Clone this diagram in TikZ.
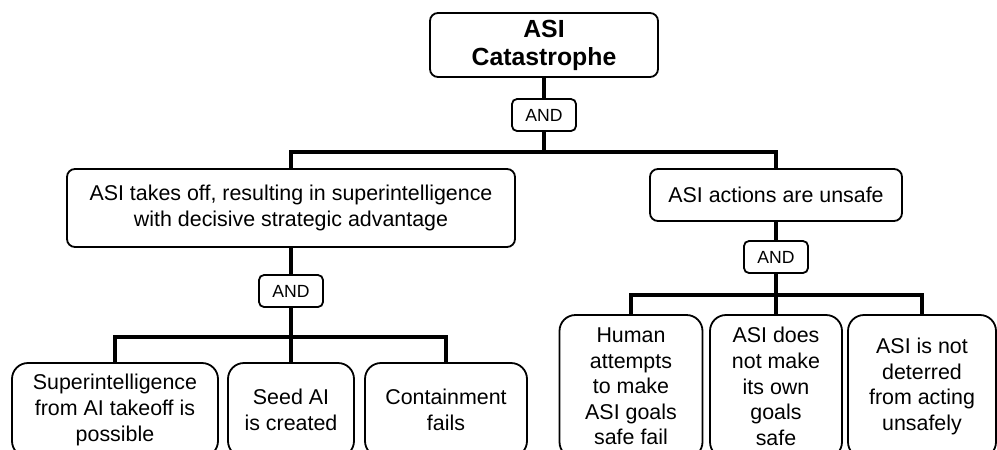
\documentclass[tikz,border=0pt]{standalone}
\usepackage{fontspec}
\setmainfont{Liberation Sans}
\usetikzlibrary{positioning}

\begin{document}
\begin{tikzpicture}[
    x=0.5pt, y=-0.5pt,
    box/.style={rectangle, draw, line width=0.9pt, rounded corners=4pt,
                align=center, inner sep=1pt,
                font=\fontsize{10.7}{12.8}\selectfont},
    goal/.style={box, font=\bfseries\fontsize{12.4}{14}\selectfont},
    gate/.style={box, rounded corners=2.5pt, minimum width=32pt,
                 minimum height=16pt, font=\fontsize{8.8}{10}\selectfont},
    leaf/.style={box, rounded corners=8pt},
    link/.style={line width=1.6pt}
]
  \useasboundingbox (0,0) rectangle (997,450);
  \clip (0,0) rectangle (997,450);

  % Top event
  \node[goal, minimum width=114pt, minimum height=32pt] (asi) at (544,45) {ASI\\Catastrophe};
  \node[gate] (and1) at (544,115) {AND};

  % Second level
  \node[box, minimum width=224pt, minimum height=39pt] (takeoff) at (291,208)
    {ASI takes off, resulting in superintelligence\\with decisive strategic advantage};
  \node[box, minimum width=126pt, minimum height=26pt] (unsafe) at (776,195) {ASI actions are unsafe};
  \node[gate] (and2) at (291,291) {AND};
  \node[gate] (and3) at (776,257) {AND};

  % Leaves under takeoff
  \node[leaf, minimum width=103pt, minimum height=47pt] (possible) at (115,410) {Superintelligence\\from AI takeoff is\\possible};
  \node[leaf, minimum width=63pt, minimum height=47pt] (seed) at (291,410) {Seed AI\\is created};
  \node[leaf, minimum width=81pt, minimum height=47pt] (contain) at (446,410) {Containment\\fails};

  % Leaves under unsafe actions
  \node[leaf, minimum width=71.5pt, minimum height=71.5pt] (human) at (631,386.5) {Human\\attempts\\to make\\ASI goals\\safe fail};
  \node[leaf, minimum width=66pt, minimum height=71.5pt] (own) at (776,386.5) {ASI does\\not make\\its own\\goals\\safe};
  \node[leaf, minimum width=74pt, minimum height=71.5pt] (deter) at (922,386.5) {ASI is not\\deterred\\from acting\\unsafely};

  \coordinate (bus1) at (544,152);
  \coordinate (bus2) at (291,337);
  \coordinate (bus3) at (776,295);

  \draw[link] (asi) -- (and1);
  \draw[link] (and1) -- (bus1);
  \draw[link] (takeoff.north) |- (bus1) -| (unsafe.north);

  \draw[link] (takeoff) -- (and2);
  \draw[link] (and2) -- (bus2);
  \draw[link] (possible.north) |- (bus2) -| (contain.north);
  \draw[link] (bus2) -- (seed.north);

  \draw[link] (unsafe) -- (and3);
  \draw[link] (and3) -- (bus3);
  \draw[link] (human.north) |- (bus3) -| (deter.north);
  \draw[link] (bus3) -- (own.north);
\end{tikzpicture}
\end{document}
